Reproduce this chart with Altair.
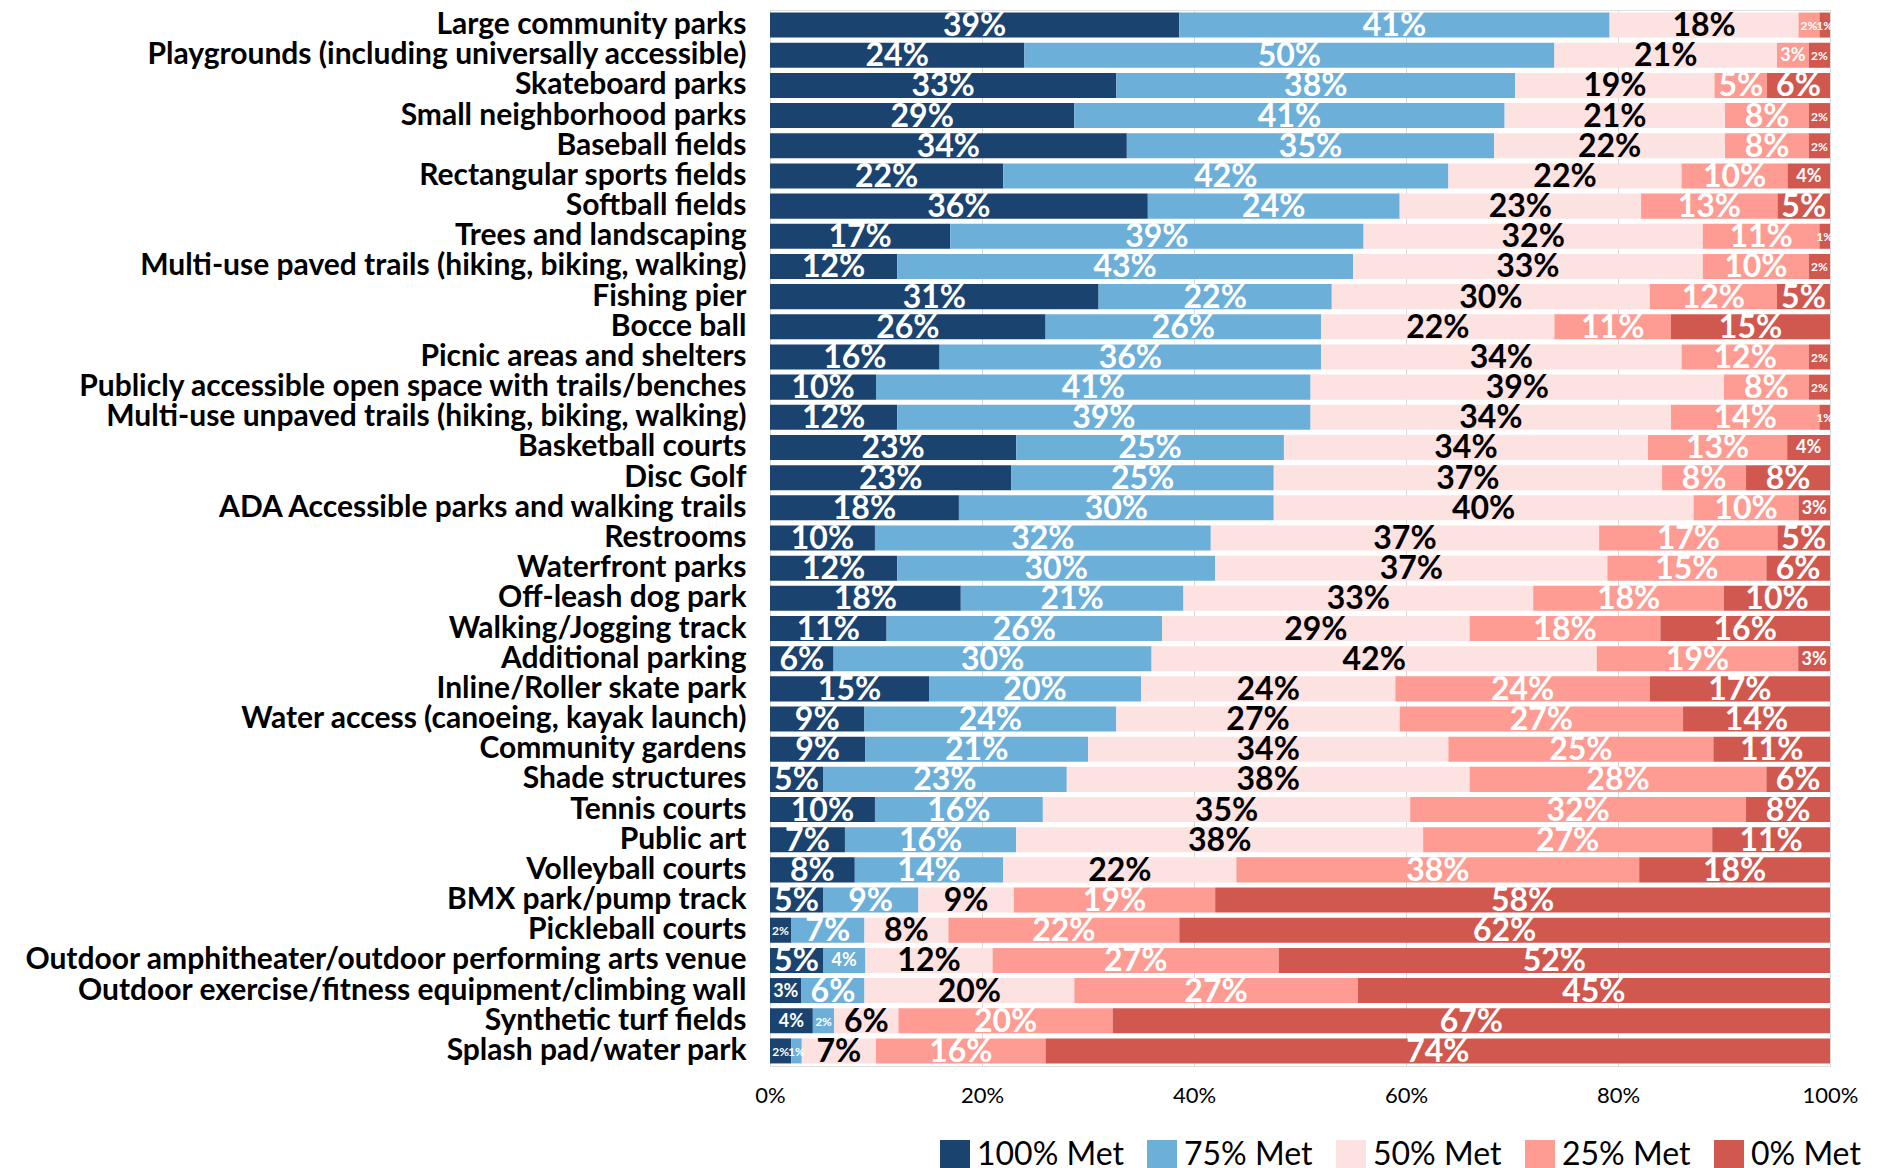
import altair as alt
import pandas as pd

categories = [
    "Large community parks",
    "Playgrounds (including universally accessible)",
    "Skateboard parks",
    "Small neighborhood parks",
    "Baseball fields",
    "Rectangular sports fields",
    "Softball fields",
    "Trees and landscaping",
    "Multi-use paved trails (hiking, biking, walking)",
    "Fishing pier",
    "Bocce ball",
    "Picnic areas and shelters",
    "Publicly accessible open space with trails/benches",
    "Multi-use unpaved trails (hiking, biking, walking)",
    "Basketball courts",
    "Disc Golf",
    "ADA Accessible parks and walking trails",
    "Restrooms",
    "Waterfront parks",
    "Off-leash dog park",
    "Walking/Jogging track",
    "Additional parking",
    "Inline/Roller skate park",
    "Water access (canoeing, kayak launch)",
    "Community gardens",
    "Shade structures",
    "Tennis courts",
    "Public art",
    "Volleyball courts",
    "BMX park/pump track",
    "Pickleball courts",
    "Outdoor amphitheater/outdoor performing arts venue",
    "Outdoor exercise/fitness equipment/climbing wall",
    "Synthetic turf fields",
    "Splash pad/water park",
]

met100 = [39, 24, 33, 29, 34, 22, 36, 17, 12, 31, 26, 16, 10, 12, 23, 23, 18, 10,
          12, 18, 11, 6, 15, 9, 9, 5, 10, 7, 8, 5, 2, 5, 3, 4, 2]
met75 = [41, 50, 38, 41, 35, 42, 24, 39, 43, 22, 26, 36, 41, 39, 25, 25, 30, 32,
         30, 21, 26, 30, 20, 24, 21, 23, 16, 16, 14, 9, 7, 4, 6, 2, 1]
met50 = [18, 21, 19, 21, 22, 22, 23, 32, 33, 30, 22, 34, 39, 34, 34, 37, 40, 37,
         37, 33, 29, 42, 24, 27, 34, 38, 35, 38, 22, 9, 8, 12, 20, 6, 7]
met25 = [2, 3, 5, 8, 8, 10, 13, 11, 10, 12, 11, 12, 8, 14, 13, 8, 10, 17,
         15, 18, 18, 19, 24, 27, 25, 28, 32, 27, 38, 19, 22, 27, 27, 20, 16]
met0 = [1, 2, 6, 2, 2, 4, 5, 1, 2, 5, 15, 2, 2, 1, 4, 8, 3, 5,
        6, 10, 16, 3, 17, 14, 11, 6, 8, 11, 18, 58, 62, 52, 45, 67, 74]

series = ["100% Met", "75% Met", "50% Met", "25% Met", "0% Met"]
colors = ["#1b4370", "#6cb0da", "#fce2e0", "#fe9b92", "#d0584f"]
x_ticks = [0, 0.2, 0.4, 0.6, 0.8, 1.0]

rows = []
for i, cat in enumerate(categories):
    for j, vals in enumerate([met100, met75, met50, met25, met0]):
        rows.append({"category": cat, "series": series[j], "order": j,
                     "value": vals[i], "label": f"{vals[i]}%"})
df = pd.DataFrame(rows)

FONT = "Lato"

base = alt.Chart(df).transform_stack(
    stack="value",
    groupby=["category"],
    sort=[alt.SortField(field="order", order="ascending")],
    as_=["x0", "x1"],
    offset="normalize",
).transform_calculate(
    mid="(datum.x0 + datum.x1) / 2",
    fs="datum.value <= 2 ? 12 : (datum.value <= 4 ? 18 : 32)",
)

yenc = alt.Y(
    "category:N",
    sort=categories,
    scale=alt.Scale(paddingInner=0.17, paddingOuter=0.085),
    axis=alt.Axis(
        title=None, labelFont=FONT, labelFontWeight="bold", labelFontSize=30,
        labelColor="black", labelLimit=1000, labelPadding=24, ticks=False,
        domain=False, grid=False,
    ),
)

bars = base.mark_bar().encode(
    y=yenc,
    x=alt.X(
        "x0:Q",
        scale=alt.Scale(domain=[0, 1], nice=False),
        axis=alt.Axis(
            format=".0%", values=x_ticks, title=None, grid=True,
            gridColor="#d9d9d9", gridWidth=1, ticks=False, domain=False,
            labelFlush=False, labelFont=FONT, labelFontSize=22,
            labelPadding=19, labelColor="black",
        ),
    ),
    x2="x1:Q",
    color=alt.Color(
        "series:N",
        sort=series,
        scale=alt.Scale(domain=series, range=colors),
        legend=alt.Legend(
            title=None, orient="none", legendX=169, legendY=1129,
            direction="horizontal", symbolType="square", symbolSize=900,
            symbolStrokeWidth=0, symbolOpacity=1, labelFont=FONT,
            labelFontSize=32, labelColor="black", labelOffset=6,
            columnPadding=22, padding=0,
        ),
    ),
)

texts = base.mark_text(font=FONT, fontWeight="bold", baseline="middle", dy=1).encode(
    y=alt.Y("category:N", sort=categories),
    x=alt.X("mid:Q"),
    text="label:N",
    size=alt.Size("fs:Q", scale=None, legend=None),
    color=alt.condition("datum.series === '50% Met'", alt.value("black"), alt.value("white")),
)

chart = alt.layer(bars, texts).properties(
    width=1060,
    height=1056,
    padding={"left": 762, "top": 2, "right": 45, "bottom": 102},
    autosize=alt.AutoSizeParams(type="none"),
).configure_view(
    stroke="black", strokeWidth=1.5
).configure(background="white")

chart.save("out.html", embed_options={"renderer": "svg", "actions": False})
